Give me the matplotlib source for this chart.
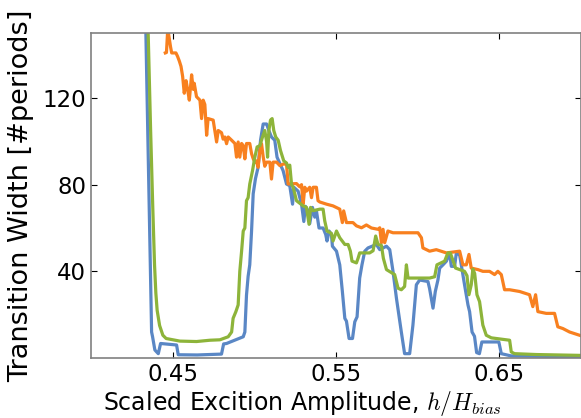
import matplotlib
matplotlib.use("Agg")
import matplotlib.pyplot as plt

plt.rcParams["mathtext.fontset"] = "cm"

# (amplitude, width) points, one list per curve
blue_pts = [
    (0.4330, 174), (0.4336, 150), (0.4371, 12), (0.4377, 9.8), (0.4391, 3.7), (0.4412, 2),
    (0.4426, 6.7), (0.4524, 6), (0.4534, 1.5), (0.4650, 1.4), (0.4799, 1.8), (0.4812, 6.5),
    (0.4830, 6.7), (0.4932, 9.8), (0.4942, 12), (0.4952, 29), (0.4962, 37.7), (0.4972, 43),
    (0.4983, 58.6), (0.4993, 75.8), (0.5007, 82.8), (0.5023, 88), (0.5038, 100.5), (0.5054, 108),
    (0.5075, 108), (0.5089, 105), (0.5105, 102), (0.5125, 100.5), (0.5139, 92.7), (0.5156, 89.8),
    (0.5176, 86.5), (0.5197, 80.3), (0.5217, 79.5), (0.5234, 71), (0.5242, 78.8), (0.5268, 77),
    (0.5289, 71), (0.5303, 63), (0.5313, 70), (0.5329, 68), (0.5339, 62), (0.5356, 69.5),
    (0.5370, 65), (0.5380, 68), (0.5396, 60), (0.5421, 60), (0.5437, 57), (0.5445, 54),
    (0.5458, 58.6), (0.5472, 57), (0.5478, 51.6), (0.5503, 49.3), (0.5523, 43), (0.5539, 30.7),
    (0.5554, 18.3), (0.5564, 17), (0.5580, 9), (0.5601, 9), (0.5615, 16.7), (0.5629, 19),
    (0.5645, 36.9), (0.5659, 43), (0.5676, 49.3), (0.5696, 50.8), (0.5747, 52.4), (0.5768, 50),
    (0.5809, 51.6), (0.5829, 50), (0.5849, 40), (0.5870, 27.6), (0.5900, 12), (0.5920, 2),
    (0.5951, 2), (0.5971, 15.2), (0.5992, 33.8), (0.6012, 36), (0.6063, 35.3), (0.6073, 32),
    (0.6094, 23), (0.6108, 30.7), (0.6124, 36), (0.6135, 41.5), (0.6155, 43), (0.6176, 44.7),
    (0.6196, 48.5), (0.6206, 42.3), (0.6226, 42.3), (0.6237, 48.5), (0.6257, 47.5), (0.6267, 43),
    (0.6287, 33.8), (0.6308, 24.5), (0.6318, 21.4), (0.6333, 12), (0.6348, 10), (0.6361, 2.5),
    (0.6378, 2), (0.6393, 7.4), (0.6497, 7.4), (0.6512, 2), (0.6570, 1), (0.7000, 0.5),
]

orange_pts = [
    (0.4455, 140.8), (0.4462, 141), (0.4470, 152), (0.4476, 149), (0.4487, 143.6), (0.4494, 140.8),
    (0.4520, 140.8), (0.4530, 139.2), (0.4541, 137), (0.4551, 134.6), (0.4561, 130), (0.4571, 122.2),
    (0.4582, 128), (0.4592, 123.7), (0.4602, 119), (0.4616, 130.7), (0.4626, 124), (0.4632, 126.8),
    (0.4646, 120.6), (0.4667, 119), (0.4677, 110.5), (0.4687, 119), (0.4697, 117), (0.4708, 102.8),
    (0.4717, 110.5), (0.4748, 109.8), (0.4769, 99.7), (0.4779, 105), (0.4799, 104), (0.4809, 101),
    (0.4820, 102), (0.4830, 98.9), (0.4840, 102), (0.4861, 100.5), (0.4881, 99), (0.4891, 92.7),
    (0.4901, 99.7), (0.4911, 92.7), (0.4922, 99), (0.4932, 98), (0.4942, 91.9), (0.4952, 99),
    (0.4972, 99), (0.4983, 94.3), (0.4993, 92), (0.5003, 90.4), (0.5013, 91), (0.5023, 88),
    (0.5034, 95.8), (0.5044, 98.9), (0.5054, 93), (0.5064, 88.5), (0.5075, 90.4), (0.5095, 90.4),
    (0.5105, 82.6), (0.5115, 90.4), (0.5136, 90.4), (0.5156, 88.8), (0.5176, 89.5), (0.5197, 89.5),
    (0.5207, 80.3), (0.5258, 80.5), (0.5278, 79), (0.5289, 80), (0.5299, 71), (0.5309, 78.8),
    (0.5319, 77), (0.5339, 78.8), (0.5350, 74), (0.5360, 78.8), (0.5380, 78.8), (0.5390, 72.6),
    (0.5401, 72), (0.5442, 71), (0.5482, 70.2), (0.5523, 68.7), (0.5539, 62.5), (0.5547, 67.9),
    (0.5564, 62.5), (0.5604, 62.5), (0.5625, 61), (0.5656, 60.1), (0.5686, 61.4), (0.5717, 60),
    (0.5757, 59.4), (0.5768, 60.1), (0.5778, 53.2), (0.5788, 59.4), (0.5798, 53.2), (0.5818, 58.6),
    (0.5849, 57.8), (0.6002, 57.8), (0.6023, 55.5), (0.6032, 50.8), (0.6073, 49.3), (0.6114, 50),
    (0.6176, 48.5), (0.6257, 49.3), (0.6277, 43), (0.6298, 43), (0.6314, 47.8), (0.6328, 41.5),
    (0.6369, 40.8), (0.6399, 40), (0.6440, 40), (0.6471, 38.5), (0.6491, 40), (0.6512, 38.5),
    (0.6532, 31.5), (0.6563, 31.5), (0.6624, 30.7), (0.6685, 29.2), (0.6705, 23.7), (0.6722, 29.2),
    (0.6736, 21.4), (0.6787, 20.6), (0.6838, 20.6), (0.6858, 14.4), (0.6889, 13.6), (0.6930, 12),
    (0.6991, 10.5), (0.7000, 10.3),
]

green_pts = [
    (0.4350, 150), (0.4365, 105), (0.4378, 70), (0.4389, 43), (0.4397, 30), (0.4405, 22),
    (0.4420, 15), (0.4440, 10.5), (0.4460, 9), (0.4544, 7.8), (0.4646, 7.6), (0.4728, 8.2),
    (0.4789, 8.4), (0.4840, 9.8), (0.4861, 12), (0.4870, 18.3), (0.4887, 21.4), (0.4901, 24.5),
    (0.4911, 40), (0.4922, 49.3), (0.4932, 58.6), (0.4942, 60), (0.4952, 72.6), (0.4962, 74),
    (0.4972, 80.3), (0.4989, 86.5), (0.5003, 92.7), (0.5017, 97.4), (0.5034, 98), (0.5050, 102),
    (0.5064, 105), (0.5075, 100), (0.5081, 92.7), (0.5089, 105), (0.5099, 109.8), (0.5109, 110.5),
    (0.5119, 105), (0.5131, 102), (0.5146, 100.5), (0.5160, 95.8), (0.5180, 91), (0.5197, 90),
    (0.5207, 88), (0.5217, 89), (0.5228, 80), (0.5238, 78.8), (0.5258, 72.6), (0.5299, 70.2),
    (0.5319, 69.5), (0.5335, 61.7), (0.5344, 69.5), (0.5360, 68), (0.5401, 68.7), (0.5421, 68.7),
    (0.5431, 63.3), (0.5445, 58.6), (0.5472, 57.5), (0.5482, 54), (0.5503, 58.6), (0.5523, 55.5),
    (0.5554, 52.4), (0.5574, 52.4), (0.5588, 49.3), (0.5598, 44.7), (0.5625, 43.9), (0.5635, 46),
    (0.5645, 48.5), (0.5706, 48.5), (0.5727, 49.5), (0.5743, 56.3), (0.5757, 52.4), (0.5778, 52),
    (0.5790, 46), (0.5809, 40.8), (0.5859, 38.5), (0.5880, 32.2), (0.5900, 31.5), (0.5920, 33),
    (0.5931, 43), (0.5941, 36.9), (0.5961, 36.9), (0.6073, 36.9), (0.6104, 37.5), (0.6118, 43),
    (0.6165, 44.7), (0.6185, 48.5), (0.6200, 48.5), (0.6216, 45), (0.6232, 41.5), (0.6287, 40),
    (0.6302, 38), (0.6314, 29.2), (0.6328, 33.8), (0.6338, 41), (0.6349, 39), (0.6363, 29.2),
    (0.6379, 26), (0.6399, 15.2), (0.6420, 10.5), (0.6451, 9.3), (0.6563, 8.2), (0.6573, 2.8),
    (0.6593, 2), (0.6726, 1.6), (0.7000, 1.2),
]

blue_col = "#5a87c5"
orange_col = "#f8801f"
green_col = "#8db43a"

fig = plt.figure(figsize=(5.81, 4.18), dpi=100)
ax = fig.add_axes([91 / 581, 1 - 358 / 418, 1 - 91 / 581, (358 - 33) / 418])

for pts, col in [(blue_pts, blue_col), (orange_pts, orange_col), (green_pts, green_col)]:
    xs, ys = zip(*pts)
    ax.plot(xs, ys, color=col, lw=2.3)

ax.set_xlim(0.40, 0.70)
ax.set_ylim(0, 150)
ax.set_xticks([0.45, 0.55, 0.65])
ax.set_xticklabels(["0.45", "0.55", "0.65"])
ax.set_yticks([40, 80, 120])
ax.tick_params(direction="in", top=True, right=True, labelsize=16.5, length=4, pad=3.5)
for s in ax.spines.values():
    s.set_color("#808080")
    s.set_linewidth(1.2)

ax.set_xlabel(r"Scaled Excition Amplitude, $h/H_{bias}$", fontsize=17)
ax.xaxis.set_label_coords(0.432, -0.095)
ax.set_ylabel("Transition Width [#periods]", fontsize=19.5, labelpad=6)

fig.savefig("out.png", dpi=100)
